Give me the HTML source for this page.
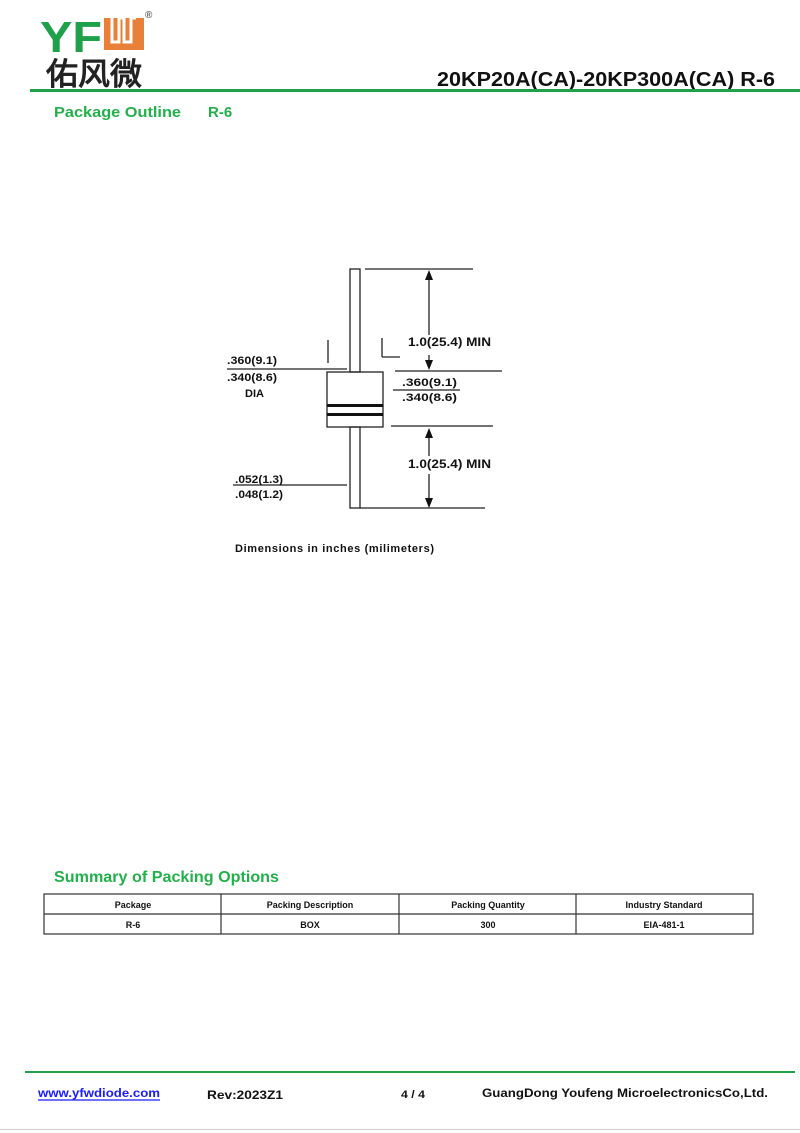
<!DOCTYPE html>
<html><head><meta charset="utf-8"><style>
html,body{margin:0;padding:0;background:#fff}
svg{display:block}
text{font-family:"Liberation Sans",Arial,sans-serif;font-weight:bold}
</style></head><body>
<svg width="800" height="1133" viewBox="0 0 800 1133" xmlns="http://www.w3.org/2000/svg">
<!-- logo -->
<text x="40" y="52" font-size="44" fill="#1fa04a" textLength="62" lengthAdjust="spacingAndGlyphs">YF</text>
<path d="M104 18 h40 v32 h-40 z" fill="#e8803a"/>
<path d="M112 18 v24 h7 v-24 h5 v24 h7 v-24 h5" fill="none" stroke="#fff" stroke-width="3"/>
<text x="145" y="18" font-size="10" fill="#666" font-weight="normal">®</text>
<text x="46" y="85" font-size="31" fill="#222" font-family="'Noto Sans CJK SC',sans-serif" textLength="96" lengthAdjust="spacingAndGlyphs">佑风微</text>
<text x="437" y="86" font-size="20" fill="#111" textLength="338" lengthAdjust="spacingAndGlyphs">20KP20A(CA)-20KP300A(CA)  R-6</text>
<rect x="30" y="89" width="770" height="3" fill="#1fa04a"/>
<text x="54" y="117" font-size="15" fill="#22b04b" textLength="127" lengthAdjust="spacingAndGlyphs">Package Outline</text>
<text x="208" y="117" font-size="15" fill="#22b04b">R-6</text>
<!-- diagram -->
<g stroke="#222" stroke-width="1.3" fill="none">
<rect x="350" y="269" width="10" height="103"/>
<rect x="350" y="427" width="10" height="81"/>
<rect x="327" y="372" width="56" height="55"/>
<line x1="365" y1="269" x2="473" y2="269"/>
<line x1="328" y1="340" x2="328" y2="363"/>
<line x1="382" y1="338" x2="382" y2="357"/>
<line x1="382" y1="357" x2="400" y2="357"/>
<line x1="227" y1="369" x2="347" y2="369"/>
<line x1="395" y1="371" x2="502" y2="371"/>
<line x1="393" y1="390" x2="460" y2="390"/>
<line x1="391" y1="426" x2="493" y2="426"/>
<line x1="360" y1="508" x2="485" y2="508"/>
<line x1="233" y1="485" x2="347" y2="485"/>
<line x1="429" y1="278" x2="429" y2="335"/>
<line x1="429" y1="355" x2="429" y2="362"/>
<line x1="429" y1="436" x2="429" y2="456"/>
<line x1="429" y1="474" x2="429" y2="500"/>
</g>
<rect x="327" y="404" width="56" height="3" fill="#111"/>
<rect x="327" y="413" width="56" height="3" fill="#111"/>
<g fill="#111">
<path d="M429 270 l-4 10 h8 z"/><path d="M429 370 l-4 -10 h8 z"/>
<path d="M429 428 l-4 10 h8 z"/><path d="M429 508 l-4 -10 h8 z"/>
</g>
<g font-size="11" fill="#111">
<text x="227" y="364" textLength="50" lengthAdjust="spacingAndGlyphs">.360(9.1)</text>
<text x="227" y="381" textLength="50" lengthAdjust="spacingAndGlyphs">.340(8.6)</text>
<text x="245" y="397">DIA</text>
<text x="402" y="386" textLength="55" lengthAdjust="spacingAndGlyphs">.360(9.1)</text>
<text x="402" y="401" textLength="55" lengthAdjust="spacingAndGlyphs">.340(8.6)</text>
<text x="408" y="346" font-size="12" textLength="83" lengthAdjust="spacingAndGlyphs">1.0(25.4)  MIN</text>
<text x="408" y="468" font-size="12" textLength="83" lengthAdjust="spacingAndGlyphs">1.0(25.4)  MIN</text>
<text x="235" y="483" textLength="48" lengthAdjust="spacingAndGlyphs">.052(1.3)</text>
<text x="235" y="498" textLength="48" lengthAdjust="spacingAndGlyphs">.048(1.2)</text>
<text x="235" y="552" textLength="199" lengthAdjust="spacing">Dimensions  in  inches (milimeters)</text>
</g>
<!-- table -->
<text x="54" y="882" font-size="16" fill="#22b04b" textLength="225" lengthAdjust="spacingAndGlyphs">Summary of Packing Options</text>
<g stroke="#333" stroke-width="1.2" fill="none">
<rect x="44" y="894" width="709" height="40"/>
<line x1="44" y1="914" x2="753" y2="914"/>
<line x1="221" y1="894" x2="221" y2="934"/>
<line x1="399" y1="894" x2="399" y2="934"/>
<line x1="576" y1="894" x2="576" y2="934"/>
</g>
<g font-size="9" fill="#111" text-anchor="middle">
<text x="133" y="908">Package</text><text x="310" y="908">Packing Description</text>
<text x="488" y="908">Packing Quantity</text><text x="664" y="908">Industry Standard</text>
<text x="133" y="928">R-6</text><text x="310" y="928">BOX</text>
<text x="488" y="928">300</text><text x="664" y="928">EIA-481-1</text>
</g>
<!-- footer -->
<rect x="25" y="1071" width="770" height="2" fill="#1fa04a"/>
<text x="38" y="1097" font-size="12" fill="#1a1aff" textLength="122" lengthAdjust="spacingAndGlyphs">www.yfwdiode.com</text>
<line x1="38" y1="1100" x2="160" y2="1100" stroke="#1a1aff" stroke-width="1.3"/>
<text x="207" y="1099" font-size="12" fill="#111" textLength="76" lengthAdjust="spacingAndGlyphs">Rev:2023Z1</text>
<text x="401" y="1098" font-size="11" fill="#111" textLength="24" lengthAdjust="spacingAndGlyphs">4 / 4</text>
<text x="482" y="1097" font-size="12" fill="#111" textLength="286" lengthAdjust="spacingAndGlyphs">GuangDong Youfeng MicroelectronicsCo,Ltd.</text>
<rect x="0" y="1129" width="800" height="1" fill="#ccc"/>
</svg>
</body></html>
